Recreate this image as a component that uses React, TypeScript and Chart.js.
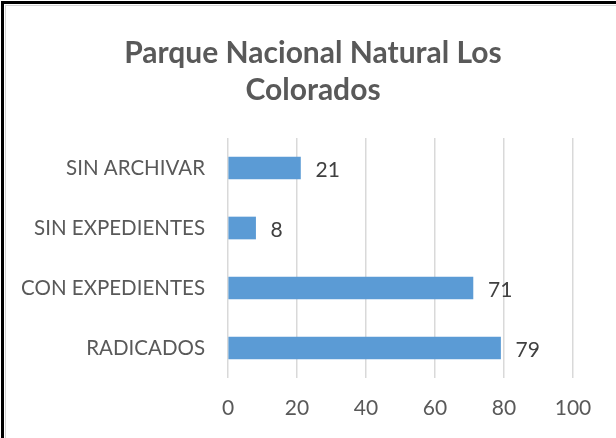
import React, { useEffect, useRef } from "react";
import { Chart, registerables } from "chart.js";

Chart.register(...registerables);

const titleLines = ["Parque Nacional Natural Los", "Colorados"];
const categories = ["SIN ARCHIVAR", "SIN EXPEDIENTES", "CON EXPEDIENTES", "RADICADOS"];
const values = [21, 8, 71, 79];
const xMin = 0;
const xMax = 100;
const xStep = 20;

const FONT = "Lato, 'Open Sans', sans-serif";
const TEXT = "#595959";

const framePlugin = {
  id: "frame",
  afterDraw(chart: any) {
    const ctx = chart.ctx;
    ctx.save();
    ctx.fillStyle = "#d4d4d4";
    ctx.fillRect(5, 5, chart.width - 5, 1);
    ctx.fillRect(5, 5, 1, chart.height - 5);
    ctx.fillStyle = "#000000";
    ctx.fillRect(1, 1, chart.width - 1, 3);
    ctx.fillRect(1, 1, 3, chart.height - 1);
    ctx.restore();
  },
};

const titlePlugin = {
  id: "wideTitle",
  afterDraw(chart: any) {
    const ctx = chart.ctx;
    ctx.save();
    ctx.font = `bold 30px ${FONT}`;
    ctx.fillStyle = TEXT;
    ctx.textAlign = "center";
    ctx.textBaseline = "middle";
    titleLines.forEach((line, i) => {
      ctx.fillText(line, 313, 53 + i * 37.5);
    });
    ctx.restore();
  },
};

const labelPlugin = {
  id: "barLabels",
  afterDatasetsDraw(chart: any) {
    const ctx = chart.ctx;
    const meta = chart.getDatasetMeta(0);
    ctx.save();
    ctx.font = `21px ${FONT}`;
    ctx.fillStyle = "#404040";
    ctx.textAlign = "left";
    ctx.textBaseline = "middle";
    meta.data.forEach((bar: any, i: number) => {
      ctx.fillText(String(values[i]), bar.x + 15, bar.y + 2);
    });
    ctx.restore();
  },
};

export default function App() {
  const ref = useRef<HTMLCanvasElement | null>(null);

  useEffect(() => {
    if (!ref.current) return;
    const chart = new Chart(ref.current, {
      type: "bar",
      data: {
        labels: categories,
        datasets: [
          {
            data: values,
            backgroundColor: "#5B9BD5",
            borderWidth: 0,
            barThickness: 22,
          },
        ],
      },
      options: {
        indexAxis: "y",
        responsive: false,
        animation: false,
        layout: { padding: { left: 0, right: 43, top: 138, bottom: 0 } },
        plugins: {
          legend: { display: false },
          tooltip: { enabled: false },
          title: { display: false },
        },
        scales: {
          x: {
            min: xMin,
            max: xMax,
            afterFit: (axis: any) => {
              axis.height = 60;
            },
            ticks: {
              stepSize: xStep,
              color: TEXT,
              font: { family: FONT, size: 21 },
              padding: 18,
            },
            grid: { color: "#D9D9D9", lineWidth: 1.5, drawTicks: false },
            border: { display: false },
          },
          y: {
            afterFit: (axis: any) => {
              axis.width = 228;
            },
            ticks: {
              color: TEXT,
              font: { family: FONT, size: 20.5 },
              padding: 23,
            },
            grid: { display: false, drawTicks: false },
            border: { display: false },
          },
        },
      },
      plugins: [labelPlugin, titlePlugin, framePlugin],
    });
    return () => chart.destroy();
  }, []);

  return (
    <div style={{ position: "fixed", left: 0, top: 0, width: 616, height: 438, background: "#fff" }}>
      <canvas ref={ref} width={616} height={438} />
    </div>
  );
}
